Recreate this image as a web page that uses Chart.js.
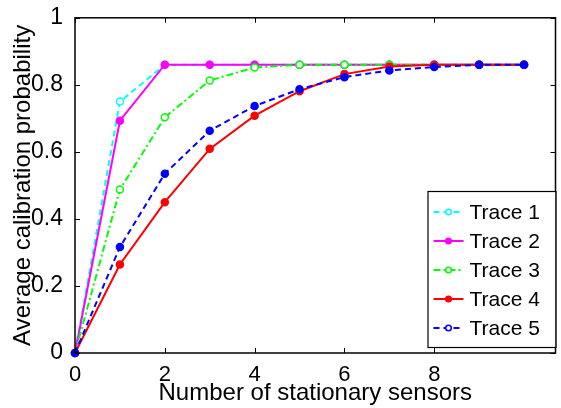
<!DOCTYPE html>
<html>
<head>
<meta charset="utf-8">
<script src="https://cdn.jsdelivr.net/npm/chart.js@4.4.0/dist/chart.umd.min.js"></script>
<style>
  html, body { margin: 0; padding: 0; background: #fff; }
</style>
</head>
<body>
<canvas id="myChart" width="561" height="408"></canvas>
<script>
const sensors = [0, 1, 2, 3, 4, 5, 6, 7, 8, 9, 10];
const trace1 = [0, 0.75, 0.86, 0.86, 0.86, 0.86, 0.86, 0.86, 0.86, 0.86, 0.86];
const trace2 = [0, 0.693, 0.86, 0.86, 0.86, 0.86, 0.86, 0.86, 0.86, 0.86, 0.86];
const trace3 = [0, 0.488, 0.703, 0.813, 0.852, 0.86, 0.86, 0.86, 0.86, 0.86, 0.86];
const trace4 = [0, 0.264, 0.45, 0.609, 0.708, 0.781, 0.832, 0.855, 0.86, 0.86, 0.86];
const trace5 = [0, 0.316, 0.535, 0.663, 0.737, 0.787, 0.823, 0.843, 0.853, 0.86, 0.86];
const traceNames = ['Trace 1', 'Trace 2', 'Trace 3', 'Trace 4', 'Trace 5'];

const xTicks = [0, 2, 4, 6, 8];
const yTicks = [0, 0.2, 0.4, 0.6, 0.8, 1];
const yTickLabels = ['0', '0.2', '0.4', '0.6', '0.8', '1'];

const FONT = '"Liberation Sans", Arial, sans-serif';

const styles = [
  { color: '#00ffff', dash: [6, 4], fill: '#ffffff', key: '#ffffff' },
  { color: '#ff00ff', dash: [], fill: '#ff00ff', key: '#ff00ff' },
  { color: '#00ff00', dash: [7, 3, 2, 3], fill: '#ffffff', key: '#ffffff' },
  { color: '#ff0000', dash: [], fill: '#ff0000', key: '#ff0000' },
  { color: '#0000ff', dash: [6, 4], fill: '#0000ff', key: '#ffffff' },
];

const series = [trace1, trace2, trace3, trace4, trace5];

const datasets = series.map((vals, i) => ({
  label: traceNames[i],
  data: vals.map((v, k) => ({ x: sensors[k], y: v })),
  borderColor: styles[i].color,
  borderDash: styles[i].dash,
  borderWidth: 2,
  pointRadius: 3.5,
  pointBorderWidth: 1.5,
  pointBorderColor: styles[i].color,
  pointBackgroundColor: styles[i].fill,
  tension: 0,
  clip: false,
  order: 4 - i,
}));

// box, inward ticks and a legend with line samples
const axesBox = {
  id: 'axesBox',
  afterDatasetsDraw(chart) {
    const { ctx, chartArea: a, scales } = chart;
    ctx.save();
    ctx.strokeStyle = '#000';
    ctx.lineWidth = 1.5;
    ctx.setLineDash([]);
    ctx.strokeRect(a.left, a.top, a.right - a.left, a.bottom - a.top);
    ctx.lineWidth = 1;
    const tl = 5;
    xTicks.forEach(v => {
      const px = Math.round(scales.x.getPixelForValue(v)) + 0.5;
      ctx.beginPath();
      ctx.moveTo(px, a.bottom); ctx.lineTo(px, a.bottom - tl);
      ctx.moveTo(px, a.top); ctx.lineTo(px, a.top + tl);
      ctx.stroke();
    });
    yTicks.forEach(v => {
      const py = Math.round(scales.y.getPixelForValue(v)) + 0.5;
      ctx.beginPath();
      ctx.moveTo(a.left, py); ctx.lineTo(a.left + tl, py);
      ctx.moveTo(a.right, py); ctx.lineTo(a.right - tl, py);
      ctx.stroke();
    });

    // legend
    const w = 128, h = 156;
    const lx = a.right - w, ly = a.bottom - 6 - h;
    ctx.fillStyle = '#fff';
    ctx.fillRect(lx, ly, w, h);
    ctx.lineWidth = 1.2;
    ctx.strokeRect(lx + 0.5, ly + 0.5, w, h);
    ctx.font = '21px ' + FONT;
    ctx.textBaseline = 'middle';
    chart.data.datasets.forEach((ds, i) => {
      const y = ly + 21 + i * 29;
      ctx.strokeStyle = ds.borderColor;
      ctx.lineWidth = 2;
      ctx.setLineDash(ds.borderDash);
      ctx.beginPath();
      ctx.moveTo(lx + 6, y); ctx.lineTo(lx + 36, y);
      ctx.stroke();
      ctx.setLineDash([]);
      ctx.beginPath();
      ctx.arc(lx + 21, y, 2.8, 0, Math.PI * 2);
      ctx.fillStyle = styles[i].key;
      ctx.fill();
      ctx.lineWidth = 1.5;
      ctx.stroke();
      ctx.fillStyle = '#000';
      ctx.fillText(ds.label, lx + 42, y + 1);
    });
    ctx.restore();
  }
};

const ctx = document.getElementById('myChart').getContext('2d');
const myChart = new Chart(ctx, {
  type: 'line',
  data: { datasets },
  options: {
    responsive: false,
    animation: false,
    layout: { padding: { top: 16, right: 2, left: 0, bottom: 0 } },
    plugins: {
      legend: { display: false },
      tooltip: { enabled: false },
    },
    scales: {
      x: {
        type: 'linear',
        min: 0,
        max: 10.7,
        afterFit(scale) { scale.height = 55; },
        afterBuildTicks(scale) { scale.ticks = xTicks.map(v => ({ value: v })); },
        grid: { display: false },
        border: { display: false },
        ticks: {
          color: '#000',
          padding: 1,
          maxRotation: 0,
          font: { size: 22, family: FONT },
          callback: (v) => String(v),
        },
        title: {
          display: true,
          text: 'Number of stationary sensors',
          color: '#000',
          font: { size: 24, family: FONT },
          padding: { top: 0, bottom: 0 },
        },
      },
      y: {
        min: 0,
        max: 1,
        afterFit(scale) { scale.width = 75; },
        afterBuildTicks(scale) { scale.ticks = yTicks.map(v => ({ value: v })); },
        grid: { display: false },
        border: { display: false },
        ticks: {
          color: '#000',
          padding: 4,
          font: { size: 23, family: FONT },
          callback: (v, i) => yTickLabels[i],
        },
        title: {
          display: true,
          text: 'Average calibration probability',
          color: '#000',
          font: { size: 24, family: FONT },
          padding: { top: 9, bottom: 0 },
        },
      },
    },
  },
  plugins: [axesBox],
});
</script>
</body>
</html>
